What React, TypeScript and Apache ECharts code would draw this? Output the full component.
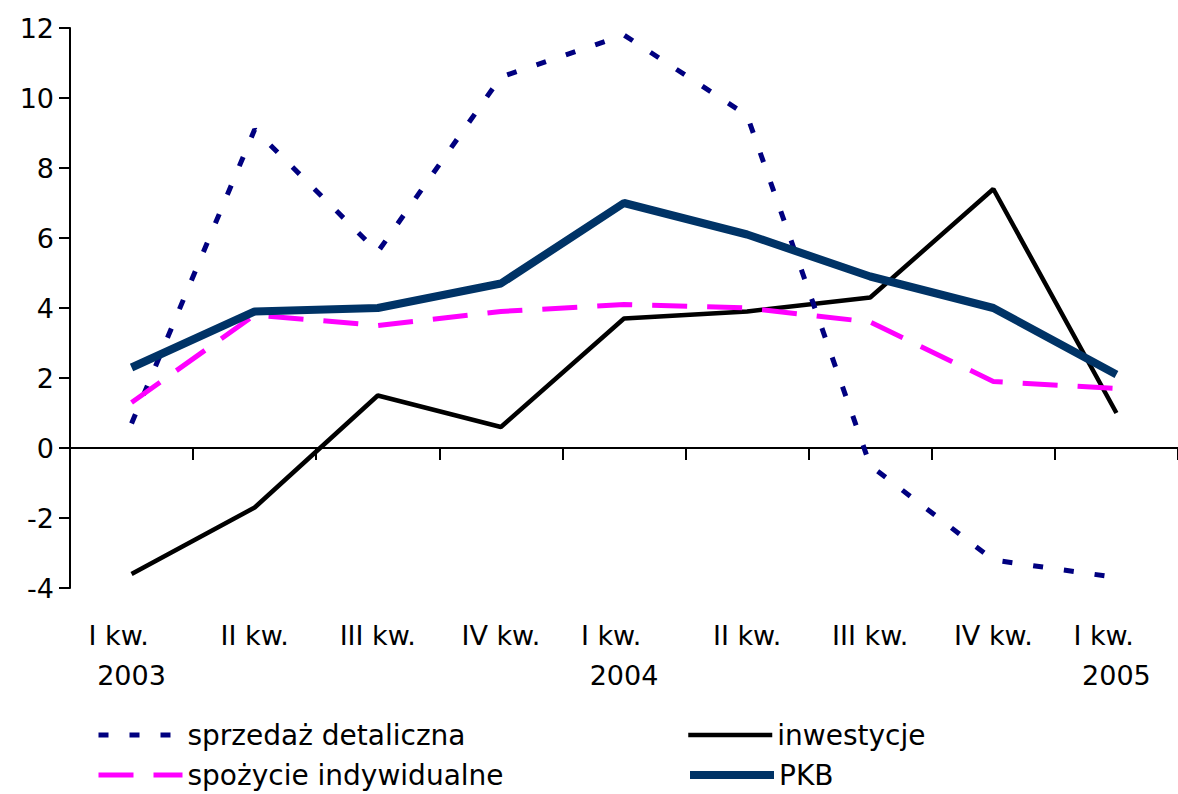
import React, { useEffect, useRef } from "react";
import * as echarts from "echarts";

const categories = [
  "I kw.   \n2003",
  "II kw.",
  "III kw.",
  "IV kw.",
  "I kw.   \n2004",
  "II kw.",
  "III kw.",
  "IV kw.",
  "I kw.   \n2005",
];
const sprzedaz = [0.7, 9.1, 5.6, 10.6, 11.8, 9.5, -0.5, -3.2, -3.7];
const spozycie = [1.3, 3.8, 3.5, 3.9, 4.1, 4.0, 3.6, 1.9, 1.7];
const inwestycje = [-3.6, -1.7, 1.5, 0.6, 3.7, 3.9, 4.3, 7.4, 1.0];
const pkb = [2.3, 3.9, 4.0, 4.7, 7.0, 6.1, 4.9, 4.0, 2.1];
const yTicks = { min: -4, max: 12, interval: 2 };

const FONT = "DejaVu Sans";
const FS = 27;
const LFS = 28;

export default function App() {
  const ref = useRef<HTMLDivElement>(null);
  useEffect(() => {
    const chart = echarts.init(ref.current!, null, { renderer: "svg" });
    const legendBase = (name: string, left: number, top: number, width: number) => ({
      show: true,
      data: [name],
      left,
      top,
      padding: 0,
      itemWidth: 84,
      itemHeight: 16,
      itemGap: 0,
      selectedMode: false,
      textStyle: { fontFamily: FONT, fontSize: LFS, color: "#000", lineHeight: 30 },
      lineStyle: { width },
      itemStyle: { color: "rgba(0,0,0,0)", borderColor: "rgba(0,0,0,0)", borderWidth: 0, opacity: 0 },
    });
    chart.setOption({
      animation: false,
      backgroundColor: "#fff",
      grid: { left: 70, top: 28, width: 1116, height: 560, containLabel: false },
      legend: [
        legendBase("sprzedaż detaliczna", 96, 720, 5),
        legendBase("spożycie indywidualne", 96, 760, 5),
        legendBase("inwestycje", 686, 720, 4.5),
        legendBase("PKB", 686, 760, 8),
      ],
      xAxis: [
        {
          type: "category",
          data: categories,
          boundaryGap: true,
          axisLine: { onZero: true, lineStyle: { color: "#000", width: 2 } },
          axisTick: { show: true, inside: false, length: 12, lineStyle: { color: "#000", width: 2 } },
          axisLabel: { show: false },
          splitLine: { show: false },
        },
        {
          type: "category",
          data: categories,
          position: "bottom",
          boundaryGap: true,
          axisLine: { show: false, onZero: false },
          axisTick: { show: false },
          splitLine: { show: false },
          axisLabel: {
            interval: 0,
            margin: 27,
            fontFamily: FONT,
            fontSize: FS,
            lineHeight: 40,
            color: "#000",
            align: "center",
          },
        },
      ],
      yAxis: {
        type: "value",
        min: yTicks.min,
        max: yTicks.max,
        interval: yTicks.interval,
        axisLine: { show: true, lineStyle: { color: "#000", width: 2 } },
        axisTick: { show: true, length: 11, lineStyle: { color: "#000", width: 2 } },
        splitLine: { show: false },
        axisLabel: { margin: 16, fontFamily: FONT, fontSize: FS, color: "#000" },
      },
      series: [
        {
          name: "sprzedaż detaliczna",
          type: "line",
          data: sprzedaz,
          symbol: "none",
          lineStyle: { color: "#000080", width: 5, type: [10, 21] },
          itemStyle: { color: "#000080" },
          z: 3,
        },
        {
          name: "inwestycje",
          type: "line",
          data: inwestycje,
          symbol: "none",
          lineStyle: { color: "#000", width: 4.5, type: "solid" },
          itemStyle: { color: "#000" },
          z: 2,
        },
        {
          name: "spożycie indywidualne",
          type: "line",
          data: spozycie,
          symbol: "none",
          lineStyle: { color: "#ff00ff", width: 5, type: [35, 20] },
          itemStyle: { color: "#ff00ff" },
          z: 4,
        },
        {
          name: "PKB",
          type: "line",
          data: pkb,
          symbol: "none",
          lineStyle: { color: "#003366", width: 8, type: "solid" },
          itemStyle: { color: "#003366" },
          z: 5,
        },
      ],
    });
    return () => chart.dispose();
  }, []);
  return (
    <div
      ref={ref}
      style={{ position: "fixed", left: 0, top: 0, width: 1178, height: 794, background: "#fff" }}
    />
  );
}
